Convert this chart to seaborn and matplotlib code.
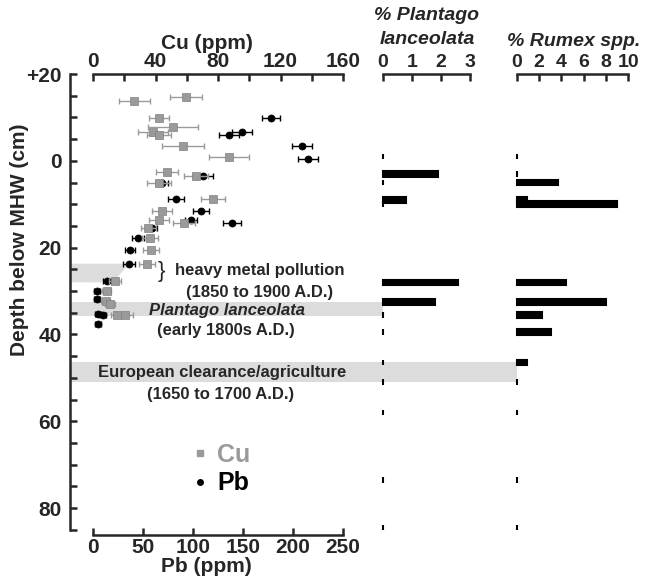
import numpy as np
import pandas as pd
import matplotlib
matplotlib.use('Agg')
import matplotlib.pyplot as plt
from matplotlib.lines import Line2D
from matplotlib.patches import Polygon
import seaborn as sns

sns.set_style('ticks')
plt.rcParams['font.family'] = ['Liberation Sans', 'DejaVu Sans']
plt.rcParams['font.weight'] = 'bold'

# Cu data (depth cm, ppm, error)
cu_depth = [-14.6, -13.7, -9.9, -7.8, -6.7, -5.9, -3.3, -0.8, 2.6, 3.6, 5.1, 8.7,
            11.6, 13.7, 14.3, 15.4, 17.7, 20.6, 23.7, 27.6, 29.9, 32.2, 33.0, 35.6, 35.6]
cu_ppm = [59.5, 26.4, 42.2, 51.4, 38.6, 42.2, 57.8, 87.0, 47.6, 65.9, 42.2, 76.6,
          44.4, 42.2, 58.2, 35.4, 36.5, 37.1, 34.4, 14.0, 8.8, 8.1, 10.9, 15.2, 20.5]
cu_err = [10, 10, 6.4, 16, 9.6, 7.7, 13.4, 12.8, 7, 7.7, 7.7, 7.7,
          6.4, 6.4, 7, 5, 5, 5, 5, 4, 3, 3, 3, 4, 5]

# Pb data
pb_depth = [-9.8, -6.7, -5.9, -3.3, -0.5, 3.6, 5.1, 8.7, 11.6, 13.7, 14.3, 15.4,
            17.7, 20.6, 23.7, 27.6, 29.9, 31.8, 35.2, 35.6, 37.5]
pb_ppm = [178, 149, 136, 209, 215, 110, 69, 83, 108, 98, 139, 59,
          45, 37, 36, 14, 4, 4, 5, 10, 5]
pb_err = [9, 10, 10, 10, 10, 10, 6, 8, 8, 6, 9, 5,
          6, 5, 6, 4, 3, 3, 3, 3, 3]

# pollen data
pollen_depth = [-1, 3, 5, 9, 10, 28, 32.5, 35.5, 39.5, 46.5, 51, 58, 73.5, 84.5]
plantago = [0, 1.9, 0, 0.8, 0, 2.6, 1.8, 0, 0, 0, 0, 0, 0, 0]
rumex = [0, 0, 3.7, 0.9, 9.0, 4.4, 8.0, 2.3, 3.1, 0.9, 0, 0, 0, 0]

df_cu = pd.DataFrame({'depth': cu_depth, 'ppm': cu_ppm, 'err': cu_err})
df_pb = pd.DataFrame({'depth': pb_depth, 'ppm': pb_ppm, 'err': pb_err})

W, H = 652, 582
fig = plt.figure(figsize=(W / 100, H / 100), dpi=100)

def fx(px):
    return px / W

def fy(px):
    return 1 - px / H

top_px, bot_px = 74, 535
ylims = (86.2, -20)
b = fy(bot_px)
h = (bot_px - top_px) / H

grey = '#9a9a9a'
band = '#dcdcdc'
fs = 14

# main axes (Pb on bottom, Cu on top)
ax = fig.add_axes([fx(70), b, fx(273), h])
ax.set_xlim(-23, 250)
ax.set_ylim(*ylims)
ax.spines['right'].set_visible(False)
ax.spines['top'].set_visible(False)
ax.spines['bottom'].set_bounds(0, 250)
ax.spines['left'].set_bounds(-20, 85)
for s in ['left', 'bottom']:
    ax.spines[s].set_linewidth(1.8)

# shaded horizons
poly = Polygon([(-23, 23.7), (36, 23.7), (20, 28.0), (-23, 28.0)],
               closed=True, facecolor=band, edgecolor='none', zorder=0)
ax.add_patch(poly)
ax.axhspan(32.5, 35.8, xmin=0, xmax=(383 - 70) / 273, color=band,
           clip_on=False, zorder=0, lw=0)
ax.axhspan(46.4, 51.0, xmin=0, xmax=(517 - 70) / 273, color=band,
           clip_on=False, zorder=0, lw=0)

# Pb
ax.errorbar(df_pb['ppm'], df_pb['depth'], xerr=df_pb['err'], fmt='none',
            ecolor='black', elinewidth=1, capsize=2, zorder=3)
sns.scatterplot(data=df_pb, x='ppm', y='depth', ax=ax, color='black',
                marker='o', s=26, edgecolor='black', linewidth=0.5, zorder=4)

ax.set_xticks(np.arange(0, 251, 50))
ax.set_yticks(np.arange(-20, 81, 20))
ax.set_yticklabels(['+20', '0', '20', '40', '60', '80'])
ax.set_yticks(np.arange(-20, 86, 5), minor=True)
ax.tick_params(axis='both', direction='in', length=5, width=1.8, labelsize=15)
ax.tick_params(axis='y', which='minor', direction='in', length=5, width=1.8)
ax.tick_params(axis='x', pad=2)
ax.tick_params(axis='y', pad=6)
ax.set_xlabel('Pb (ppm)', fontsize=15, fontweight='bold', labelpad=0)
ax.set_ylabel('Depth below MHW (cm)', fontsize=15, fontweight='bold')
ax.yaxis.set_label_coords(-0.15, 0.64)

# Cu
ax_cu = ax.twiny()
ax_cu.set_xlim(-23 * 0.64, 160)
ax_cu.set_ylim(*ylims)
for s in ['right', 'bottom', 'left']:
    ax_cu.spines[s].set_visible(False)
ax_cu.spines['top'].set_bounds(0, 160)
ax_cu.spines['top'].set_linewidth(1.8)
ax_cu.errorbar(df_cu['ppm'], df_cu['depth'], xerr=df_cu['err'], fmt='none',
               ecolor=grey, elinewidth=1, capsize=2, zorder=1)
sns.scatterplot(data=df_cu, x='ppm', y='depth', ax=ax_cu, color=grey,
                marker='s', s=26, edgecolor='#808080', linewidth=0.5, zorder=2)
ax_cu.set_xticks(np.arange(0, 161, 40))
ax_cu.set_xticks(np.arange(0, 161, 20), minor=True)
ax_cu.tick_params(axis='x', which='both', direction='in', length=5, width=1.8,
                  labelsize=15, pad=2)
ax_cu.set_xlabel('Cu (ppm)', fontsize=15, fontweight='bold', labelpad=2)
ax_cu.set_ylabel('')
for t in ax.get_xticklabels() + ax.get_yticklabels() + ax_cu.get_xticklabels():
    t.set_fontweight('bold')

# pollen panels
def pollen_panel(left, width, vals, xmax, ticks):
    a = fig.add_axes([fx(left), b, fx(width), h])
    a.set_facecolor('none')
    a.set_xlim(0, xmax)
    a.set_ylim(*ylims)
    for s in ['right', 'bottom', 'left']:
        a.spines[s].set_visible(False)
    a.spines['top'].set_linewidth(1.8)
    a.xaxis.tick_top()
    a.set_xticks(ticks)
    a.set_yticks([])
    a.tick_params(axis='x', direction='in', length=5, width=1.8, labelsize=fs, pad=2)
    for t in a.get_xticklabels():
        t.set_fontweight('bold')
    bars = a.barh(pollen_depth, vals, height=1.3, color='black',
                  edgecolor='black', linewidth=1.5)
    for p in bars:
        p.set_clip_on(False)
    return a

ax_pl = pollen_panel(383, 87, plantago, 3, [0, 1, 2, 3])
ax_ru = pollen_panel(516.7, 111.7, rumex, 10, [0, 2, 4, 6, 8, 10])

fig.text(fx(427), fy(16), '% Plantago', ha='center', va='center',
         fontsize=fs, fontweight='bold', style='italic')
fig.text(fx(427), fy(40), 'lanceolata', ha='center', va='center',
         fontsize=fs, fontweight='bold', style='italic')
fig.text(fx(574), fy(42), '% Rumex spp.', ha='center', va='center',
         fontsize=fs, fontweight='bold', style='italic')

# annotations
afs = 12
fig.text(fx(161), fy(272), '}', ha='center', va='center', fontsize=16,
         fontweight='normal')
fig.text(fx(260), fy(271), 'heavy metal pollution', ha='center', va='center',
         fontsize=afs, fontweight='bold')
fig.text(fx(260), fy(292), '(1850 to 1900 A.D.)', ha='center', va='center',
         fontsize=afs, fontweight='bold')
fig.text(fx(227), fy(310), 'Plantago lanceolata', ha='center', va='center',
         fontsize=afs, fontweight='bold', style='italic')
fig.text(fx(226), fy(330), '(early 1800s A.D.)', ha='center', va='center',
         fontsize=afs, fontweight='bold')
fig.text(fx(222), fy(373), 'European clearance/agriculture', ha='center',
         va='center', fontsize=afs, fontweight='bold')
fig.text(fx(221), fy(394), '(1650 to 1700 A.D.)', ha='center', va='center',
         fontsize=afs, fontweight='bold')

# legend
handles = [Line2D([], [], marker='s', color=grey, ls='none', markersize=4),
           Line2D([], [], marker='o', color='black', ls='none', markersize=4)]
leg = fig.legend(handles, ['Cu', 'Pb'], loc='upper left',
                 bbox_to_anchor=(fx(180), fy(430)), frameon=False,
                 handlelength=0.6, handletextpad=0.4, labelspacing=0.2,
                 borderpad=0, prop={'size': 18, 'weight': 'bold'})
leg.get_texts()[0].set_color(grey)
leg.get_texts()[1].set_color('black')

fig.savefig('out.png', dpi=100)
